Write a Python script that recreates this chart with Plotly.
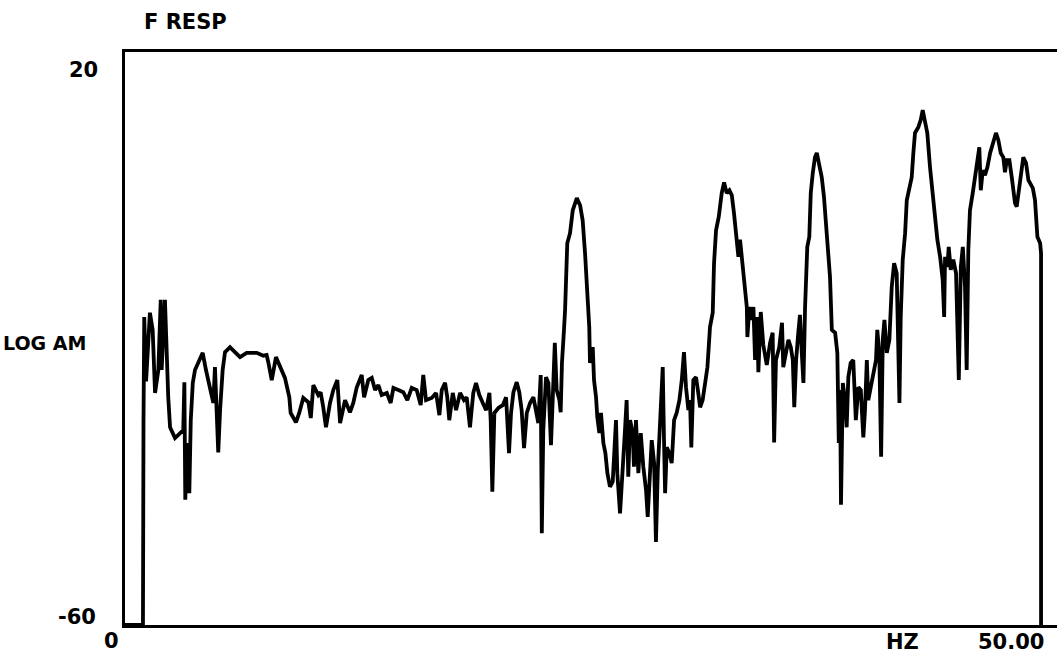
import plotly.graph_objects as go

# Frequency response trace: frequency (Hz) and log amplitude (dB)
freq_hz = [
    0, 0.98, 1.01, 1.05, 1.15, 1.36, 1.51, 1.64, 1.82, 1.95, 2.00, 2.18, 2.36, 2.46, 2.73,
    3.00, 3.18, 3.24, 3.29, 3.40, 3.51, 3.59, 3.70, 3.82, 4.00, 4.24, 4.42, 4.64, 4.82, 4.91,
    5.01, 5.09, 5.19, 5.33, 5.46, 5.73, 6.00, 6.28, 6.64, 7.19, 7.55, 7.73, 7.82, 8.01, 8.24,
    8.46, 8.73, 8.97, 9.04, 9.33, 9.51, 9.73, 10.01, 10.14, 10.28, 10.55, 10.68, 10.82, 10.97,
    11.19, 11.37, 11.59, 11.74, 12.01, 12.28, 12.46, 12.65, 12.92, 13.05, 13.28, 13.47, 13.65,
    13.83, 14.01, 14.29, 14.50, 14.65, 14.92, 15.19, 15.41, 15.65, 15.92, 16.14, 16.28, 16.43,
    16.74, 16.98, 17.16, 17.29, 17.47, 17.59, 17.70, 17.89, 18.07, 18.29, 18.50, 18.65, 18.83,
    19.01, 19.16, 19.34, 19.53, 19.71, 19.89, 19.96, 20.05, 20.16, 20.38, 20.62, 20.80, 20.87,
    20.96, 21.07, 21.20, 21.38, 21.52, 21.65, 21.78, 21.93, 22.11, 22.29, 22.43, 22.56, 22.69,
    22.75, 22.83, 22.98, 23.11, 23.20, 23.25, 23.35, 23.46, 23.56, 23.71, 23.78, 23.85, 23.96,
    24.02, 24.14, 24.29, 24.44, 24.66, 24.84, 24.98, 25.11, 25.20, 25.34, 25.38, 25.53, 25.60,
    25.71, 25.78, 25.89, 25.98, 26.11, 26.22, 26.33, 26.47, 26.62, 26.80, 26.87, 27.02, 27.17,
    27.29, 27.38, 27.47, 27.57, 27.71, 27.78, 27.89, 28.02, 28.15, 28.29, 28.44, 28.53, 28.62,
    28.75, 28.88, 28.98, 29.08, 29.20, 29.35, 29.42, 29.48, 29.57, 29.71, 29.84, 29.97, 30.11,
    30.26, 30.39, 30.51, 30.62, 30.75, 30.84, 30.91, 31.02, 31.17, 31.29, 31.39, 31.53, 31.66,
    31.79, 31.93, 32.08, 32.15, 32.26, 32.41, 32.57, 32.70, 32.84, 32.99, 33.12, 33.24, 33.39,
    33.48, 33.57, 33.72, 33.84, 33.94, 33.97, 34.08, 34.21, 34.30, 34.39, 34.51, 34.57, 34.70,
    34.84, 35.03, 35.21, 35.35, 35.43, 35.53, 35.71, 35.86, 35.93, 36.08, 36.21, 36.34, 36.45,
    36.53, 36.63, 36.75, 36.84, 36.94, 37.03, 37.12, 37.24, 37.35, 37.43, 37.54, 37.66, 37.76,
    37.84, 38.03, 38.15, 38.26, 38.39, 38.48, 38.58, 38.76, 38.88, 38.96, 39.03, 39.08, 39.18,
    39.30, 39.39, 39.48, 39.61, 39.75, 39.89, 40.03, 40.16, 40.30, 40.39, 40.49, 40.57, 40.70,
    40.85, 40.99, 41.06, 41.17, 41.27, 41.36, 41.45, 41.58, 41.72, 41.85, 41.98, 42.12, 42.27,
    42.34, 42.45, 42.58, 42.67, 42.81, 42.94, 43.03, 43.12, 43.30, 43.43, 43.54, 43.67, 43.79,
    43.94, 44.09, 44.23, 44.34, 44.49, 44.63, 44.71, 44.76, 44.89, 44.96, 45.07, 45.21, 45.36,
    45.51, 45.62, 45.73, 45.85, 45.94, 46.03, 46.12, 46.27, 46.49, 46.63, 46.71, 46.82, 46.94,
    47.07, 47.22, 47.40, 47.54, 47.67, 47.80, 47.94, 48.03, 48.13, 48.27, 48.40, 48.58, 48.67,
    48.82, 48.95, 49.03, 49.18, 49.31, 49.55, 49.67, 49.80, 49.95, 50.00, 50.00,
]

level_db = [
    -60, -60, -31.8, -17.0, -26.0, -16.4, -18.8, -27.6, -24.4, -14.6, -24.4, -14.6, -28.2, -32.4, -33.9,
    -33.2, -32.8, -26.1, -42.5, -34.6, -41.6, -31.4, -26.2, -24.4, -23.3, -22.0, -24.4, -27.2, -29.0, -24.0,
    -29.6, -35.9, -30.0, -24.4, -21.9, -21.2, -21.9, -22.6, -22.0, -22.0, -22.4, -22.3, -23.3, -25.8, -22.6,
    -24.0, -25.5, -28.2, -30.4, -31.7, -30.4, -28.3, -28.9, -31.1, -26.5, -27.9, -27.5, -29.6, -32.4,
    -29.0, -27.2, -25.8, -31.8, -28.6, -30.3, -29.0, -26.8, -25.1, -28.2, -25.8, -25.5, -27.2,
    -26.5, -27.9, -27.6, -29.0, -26.9, -27.2, -27.5, -28.6, -26.9, -27.2, -29.3, -25.1, -28.6,
    -28.3, -27.6, -30.7, -27.2, -26.2, -28.2, -31.4, -27.6, -30.0, -27.6, -28.6, -28.2, -32.4,
    -27.6, -26.2, -27.9, -29.0, -30.0, -27.6, -31.4, -41.4, -30.4, -29.7, -29.3, -28.2, -31.0,
    -36.0, -30.4, -27.5, -26.1, -27.5, -30.0, -35.3, -30.4, -29.0, -28.2, -30.4, -31.8, -25.1,
    -47.2, -32.8, -25.4, -26.2, -32.8, -34.9, -28.2, -20.6, -27.2, -28.6, -30.3, -23.4, -18.8,
    -16.0, -6.7, -5.3, -2.1, -0.4, -1.4, -3.5, -8.1, -12.8, -18.4, -23.4, -21.2, -25.8,
    -28.2, -31.0, -33.2, -30.4, -34.6, -36.0, -38.8, -40.7, -40.0, -31.4, -38.8, -44.4, -38.8,
    -32.8, -28.6, -39.3, -31.4, -33.2, -37.9, -31.4, -38.8, -33.2, -37.9, -41.2, -44.9, -40.7,
    -34.2, -37.4, -48.4, -38.4, -31.4, -24.0, -34.2, -41.6, -35.2, -36.0, -37.4, -31.4, -30.4,
    -28.6, -25.8, -21.9, -26.8, -30.0, -28.6, -35.2, -25.8, -25.4, -27.6, -29.6, -28.6, -25.8,
    -24.0, -18.4, -16.4, -9.5, -4.9, -3.0, 0.3, 1.8, 0.3, 0.7, 0.0, -2.5, -5.8,
    -8.6, -6.2, -10.0, -12.8, -15.6, -19.8, -15.6, -17.4, -15.6, -23.0, -17.0, -24.7, -16.3,
    -20.9, -23.7, -20.6, -19.2, -34.5, -23.0, -21.2, -17.8, -24.0, -22.0, -20.2, -21.2, -23.0,
    -29.6, -23.0, -19.2, -16.7, -22.0, -26.2, -15.6, -7.2, -5.8, 0.3, 3.1, 5.3, 5.9,
    4.9, 2.5, -0.2, -4.4, -9.0, -11.4, -18.8, -19.2, -22.0, -34.6, -27.2, -43.2, -26.2,
    -28.6, -32.4, -25.4, -23.4, -23.0, -31.4, -26.8, -27.2, -33.8, -30.0, -23.0, -28.6, -26.8,
    -24.8, -23.0, -18.8, -22.0, -36.5, -20.2, -17.4, -22.0, -20.2, -12.8, -9.5, -10.9, -29.0,
    -17.0, -9.0, -5.3, -0.7, 0.7, 2.5, 5.9, 8.7, 9.5, 10.5, 11.9, 10.5, 8.7,
    3.9, -0.2, -3.5, -6.2, -8.6, -11.8, -17.0, -8.6, -10.0, -7.2, -10.4, -9.0, -10.9,
    -25.8, -10.0, -7.2, -12.8, -24.4, -7.6, -2.1, 0.3, 3.9, 6.7, 0.7, 3.5, 2.8,
    3.9, 5.9, 7.4, 8.7, 7.7, 5.9, 5.3, 3.2, 4.9, 4.9, 2.5, -1.1, -1.6,
    1.7, 3.9, 5.3, 4.5, 2.1, 1.0, -0.7, -5.8, -6.7, -8.1, -60,
]

# Axis extents and the end-point labels printed on each axis
y_range = [-60, 20]
x_range = [0, 50.87]
y_tick_vals = [20, -60]
y_tick_text = ["20", "-60"]
x_tick_vals = [0, 50]
x_tick_text = ["0", "50.00"]
x_unit_pos = 42.41
y_title_pos = -20.6

title_text = "F RESP"
x_unit_text = "HZ"
y_title_text = "LOG AM"

FONT = dict(family="DejaVu Sans", size=21, color="black", weight="bold")

fig = go.Figure()
fig.add_trace(go.Scatter(
    x=freq_hz, y=level_db, mode="lines",
    line=dict(color="black", width=3.8),
    hoverinfo="skip", showlegend=False,
))

annotations = [
    # y-axis end labels
    dict(text=y_tick_text[0], xref="paper", x=0, xanchor="right", xshift=-25,
         yref="y", y=y_tick_vals[0], yanchor="middle", yshift=-18),
    dict(text=y_tick_text[1], xref="paper", x=0, xanchor="right", xshift=-27,
         yref="y", y=y_tick_vals[1], yanchor="middle", yshift=8),
    # x-axis end labels
    dict(text=x_tick_text[0], xref="x", x=x_tick_vals[0], xanchor="center", xshift=-14,
         yref="paper", y=0, yanchor="middle", yshift=-16),
    dict(text=x_tick_text[1], xref="x", x=x_tick_vals[1], xanchor="right", xshift=5,
         yref="paper", y=0, yanchor="middle", yshift=-17),
    # axis names and title
    dict(text=x_unit_text, xref="x", x=x_unit_pos, xanchor="center",
         yref="paper", y=0, yanchor="middle", yshift=-17),
    dict(text=y_title_text, xref="paper", x=0, xanchor="right", xshift=-37,
         yref="y", y=y_title_pos, yanchor="middle", font=dict(FONT, size=19)),
    dict(text=title_text, xref="paper", x=0, xanchor="left", xshift=17,
         yref="paper", y=1, yanchor="middle", yshift=30),
]
for a in annotations:
    a.setdefault("font", FONT)
    a["showarrow"] = False

fig.update_layout(
    width=1057, height=661,
    margin=dict(l=125, r=0, t=52, b=36),
    paper_bgcolor="white", plot_bgcolor="white",
    annotations=annotations,
    xaxis=dict(range=x_range, showgrid=False, zeroline=False, showticklabels=False,
               ticks="", showline=True, mirror=True, linecolor="black", linewidth=3),
    yaxis=dict(range=y_range, showgrid=False, zeroline=False, showticklabels=False,
               ticks="", showline=True, mirror=False, linecolor="black", linewidth=3),
)

fig.write_html("out.html")
